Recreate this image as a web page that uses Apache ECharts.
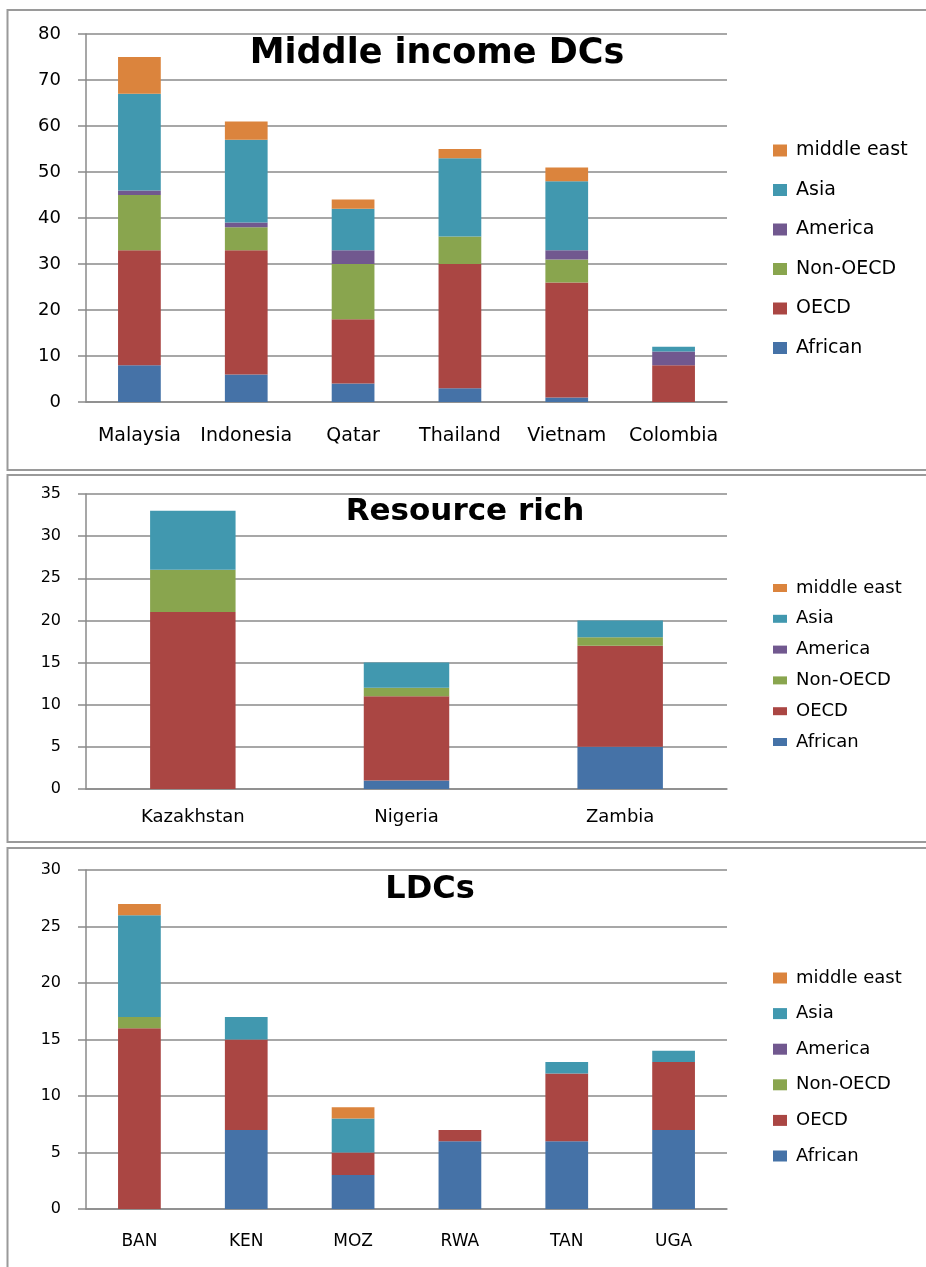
<!DOCTYPE html>
<html>
<head>
<meta charset="utf-8">
<script src="https://cdn.jsdelivr.net/npm/echarts@6/dist/echarts.min.js"></script>
<style>
html, body { margin: 0; padding: 0; background: #fff; }
#main { width: 926px; height: 1267px; }
</style>
</head>
<body>
<div id="main"></div>
<script>
// regions, bottom of the stack first
var regions = ['African', 'OECD', 'Non-OECD', 'America', 'Asia', 'middle east'];
var regionColors = ['#4572A7', '#AA4643', '#89A54E', '#71588F', '#4198AF', '#DB843D'];

// Middle income DCs
var midCountries = ['Malaysia', 'Indonesia', 'Qatar', 'Thailand', 'Vietnam', 'Colombia'];
var midAfrican = [8, 6, 4, 3, 1, 0];
var midOECD = [25, 27, 14, 27, 25, 8];
var midNonOECD = [12, 5, 12, 6, 5, 0];
var midAmerica = [1, 1, 3, 0, 2, 3];
var midAsia = [21, 18, 9, 17, 15, 1];
var midMiddleEast = [8, 4, 2, 2, 3, 0];

// Resource rich
var resCountries = ['Kazakhstan', 'Nigeria', 'Zambia'];
var resAfrican = [0, 1, 5];
var resOECD = [21, 10, 12];
var resNonOECD = [5, 1, 1];
var resAmerica = [0, 0, 0];
var resAsia = [7, 3, 2];
var resMiddleEast = [0, 0, 0];

// LDCs
var ldcCountries = ['BAN', 'KEN', 'MOZ', 'RWA', 'TAN', 'UGA'];
var ldcAfrican = [0, 7, 3, 6, 6, 7];
var ldcOECD = [16, 8, 2, 1, 6, 6];
var ldcNonOECD = [1, 0, 0, 0, 0, 0];
var ldcAmerica = [0, 0, 0, 0, 0, 0];
var ldcAsia = [9, 2, 3, 0, 1, 1];
var ldcMiddleEast = [1, 0, 1, 0, 0, 0];

var FONT = 'DejaVu Sans, Verdana, sans-serif';
var lineGray = '#8a8a8a';

var panels = [
    {
        title: 'Middle income DCs', titleX: 437, titleY: 54, titleSize: 35,
        cats: midCountries,
        data: [midAfrican, midOECD, midNonOECD, midAmerica, midAsia, midMiddleEast],
        max: 80, interval: 10, top: 34, height: 368,
        yFont: 18, xFont: 19, xMargin: 25,
        legendTop: 136, legendFont: 19, legendGap: 20.5, markH: 12,
        box: [10, 470]
    },
    {
        title: 'Resource rich', titleX: 465, titleY: 512, titleSize: 31,
        cats: resCountries,
        data: [resAfrican, resOECD, resNonOECD, resAmerica, resAsia, resMiddleEast],
        max: 35, interval: 5, top: 494, height: 295,
        yFont: 16, xFont: 18, xMargin: 19,
        legendTop: 574, legendFont: 18, legendGap: 12.8, markH: 8,
        box: [475, 842]
    },
    {
        title: 'LDCs', titleX: 430, titleY: 890, titleSize: 32,
        cats: ldcCountries,
        data: [ldcAfrican, ldcOECD, ldcNonOECD, ldcAmerica, ldcAsia, ldcMiddleEast],
        max: 30, interval: 5, top: 870, height: 339,
        yFont: 16, xFont: 17, xMargin: 24,
        legendTop: 964, legendFont: 18, legendGap: 17.6, markH: 11,
        box: [848, 1290]
    }
];

var chart = echarts.init(document.getElementById('main'), null, { renderer: 'canvas' });

var titles = [], grids = [], xAxes = [], yAxes = [], legends = [], series = [], frames = [];

panels.forEach(function (p, i) {
    titles.push({
        text: p.title,
        left: p.titleX, top: p.titleY, padding: 0,
        textAlign: 'center', textVerticalAlign: 'middle',
        textStyle: { fontFamily: FONT, fontWeight: 'bold', fontSize: p.titleSize, color: '#000' }
    });
    grids.push({ left: 86, width: 641, top: p.top, height: p.height });
    xAxes.push({
        type: 'category', gridIndex: i, data: p.cats,
        axisLine: { lineStyle: { color: lineGray, width: 1.5 } },
        axisTick: { length: 6, lineStyle: { color: lineGray, width: 1.5 } },
        axisLabel: { interval: 0, color: '#000', fontFamily: FONT, fontSize: p.xFont, margin: p.xMargin }
    });
    yAxes.push({
        type: 'value', gridIndex: i, min: 0, max: p.max, interval: p.interval,
        axisLine: { show: true, lineStyle: { color: lineGray, width: 1.5 } },
        axisTick: { show: true, length: 8, lineStyle: { color: lineGray, width: 1.5 } },
        splitLine: { lineStyle: { color: lineGray, width: 1.5 } },
        axisLabel: { color: '#000', fontFamily: FONT, fontSize: p.yFont, margin: 25 }
    });
    legends.push({
        orient: 'vertical', left: 768, top: p.legendTop,
        itemWidth: 14, itemHeight: p.markH, itemGap: p.legendGap,
        icon: 'rect', selectedMode: false,
        data: regions.slice().reverse(),
        textStyle: { color: '#000', fontFamily: FONT, fontSize: p.legendFont, padding: [0, 0, 0, 4] }
    });
    regions.forEach(function (name, k) {
        series.push({
            name: name, type: 'bar', stack: 'panel' + i,
            xAxisIndex: i, yAxisIndex: i,
            barWidth: '40%',
            itemStyle: { color: regionColors[k] },
            data: p.data[k]
        });
    });
    frames.push({
        type: 'rect', silent: true,
        shape: { x: 7.5, y: p.box[0], width: 940, height: p.box[1] - p.box[0] },
        style: { fill: 'none', stroke: '#9a9a9a', lineWidth: 2 }
    });
});

var option = {
    backgroundColor: '#fff',
    animation: false,
    title: titles,
    grid: grids,
    xAxis: xAxes,
    yAxis: yAxes,
    legend: legends,
    series: series,
    graphic: frames
};

chart.setOption(option);
</script>
</body>
</html>
